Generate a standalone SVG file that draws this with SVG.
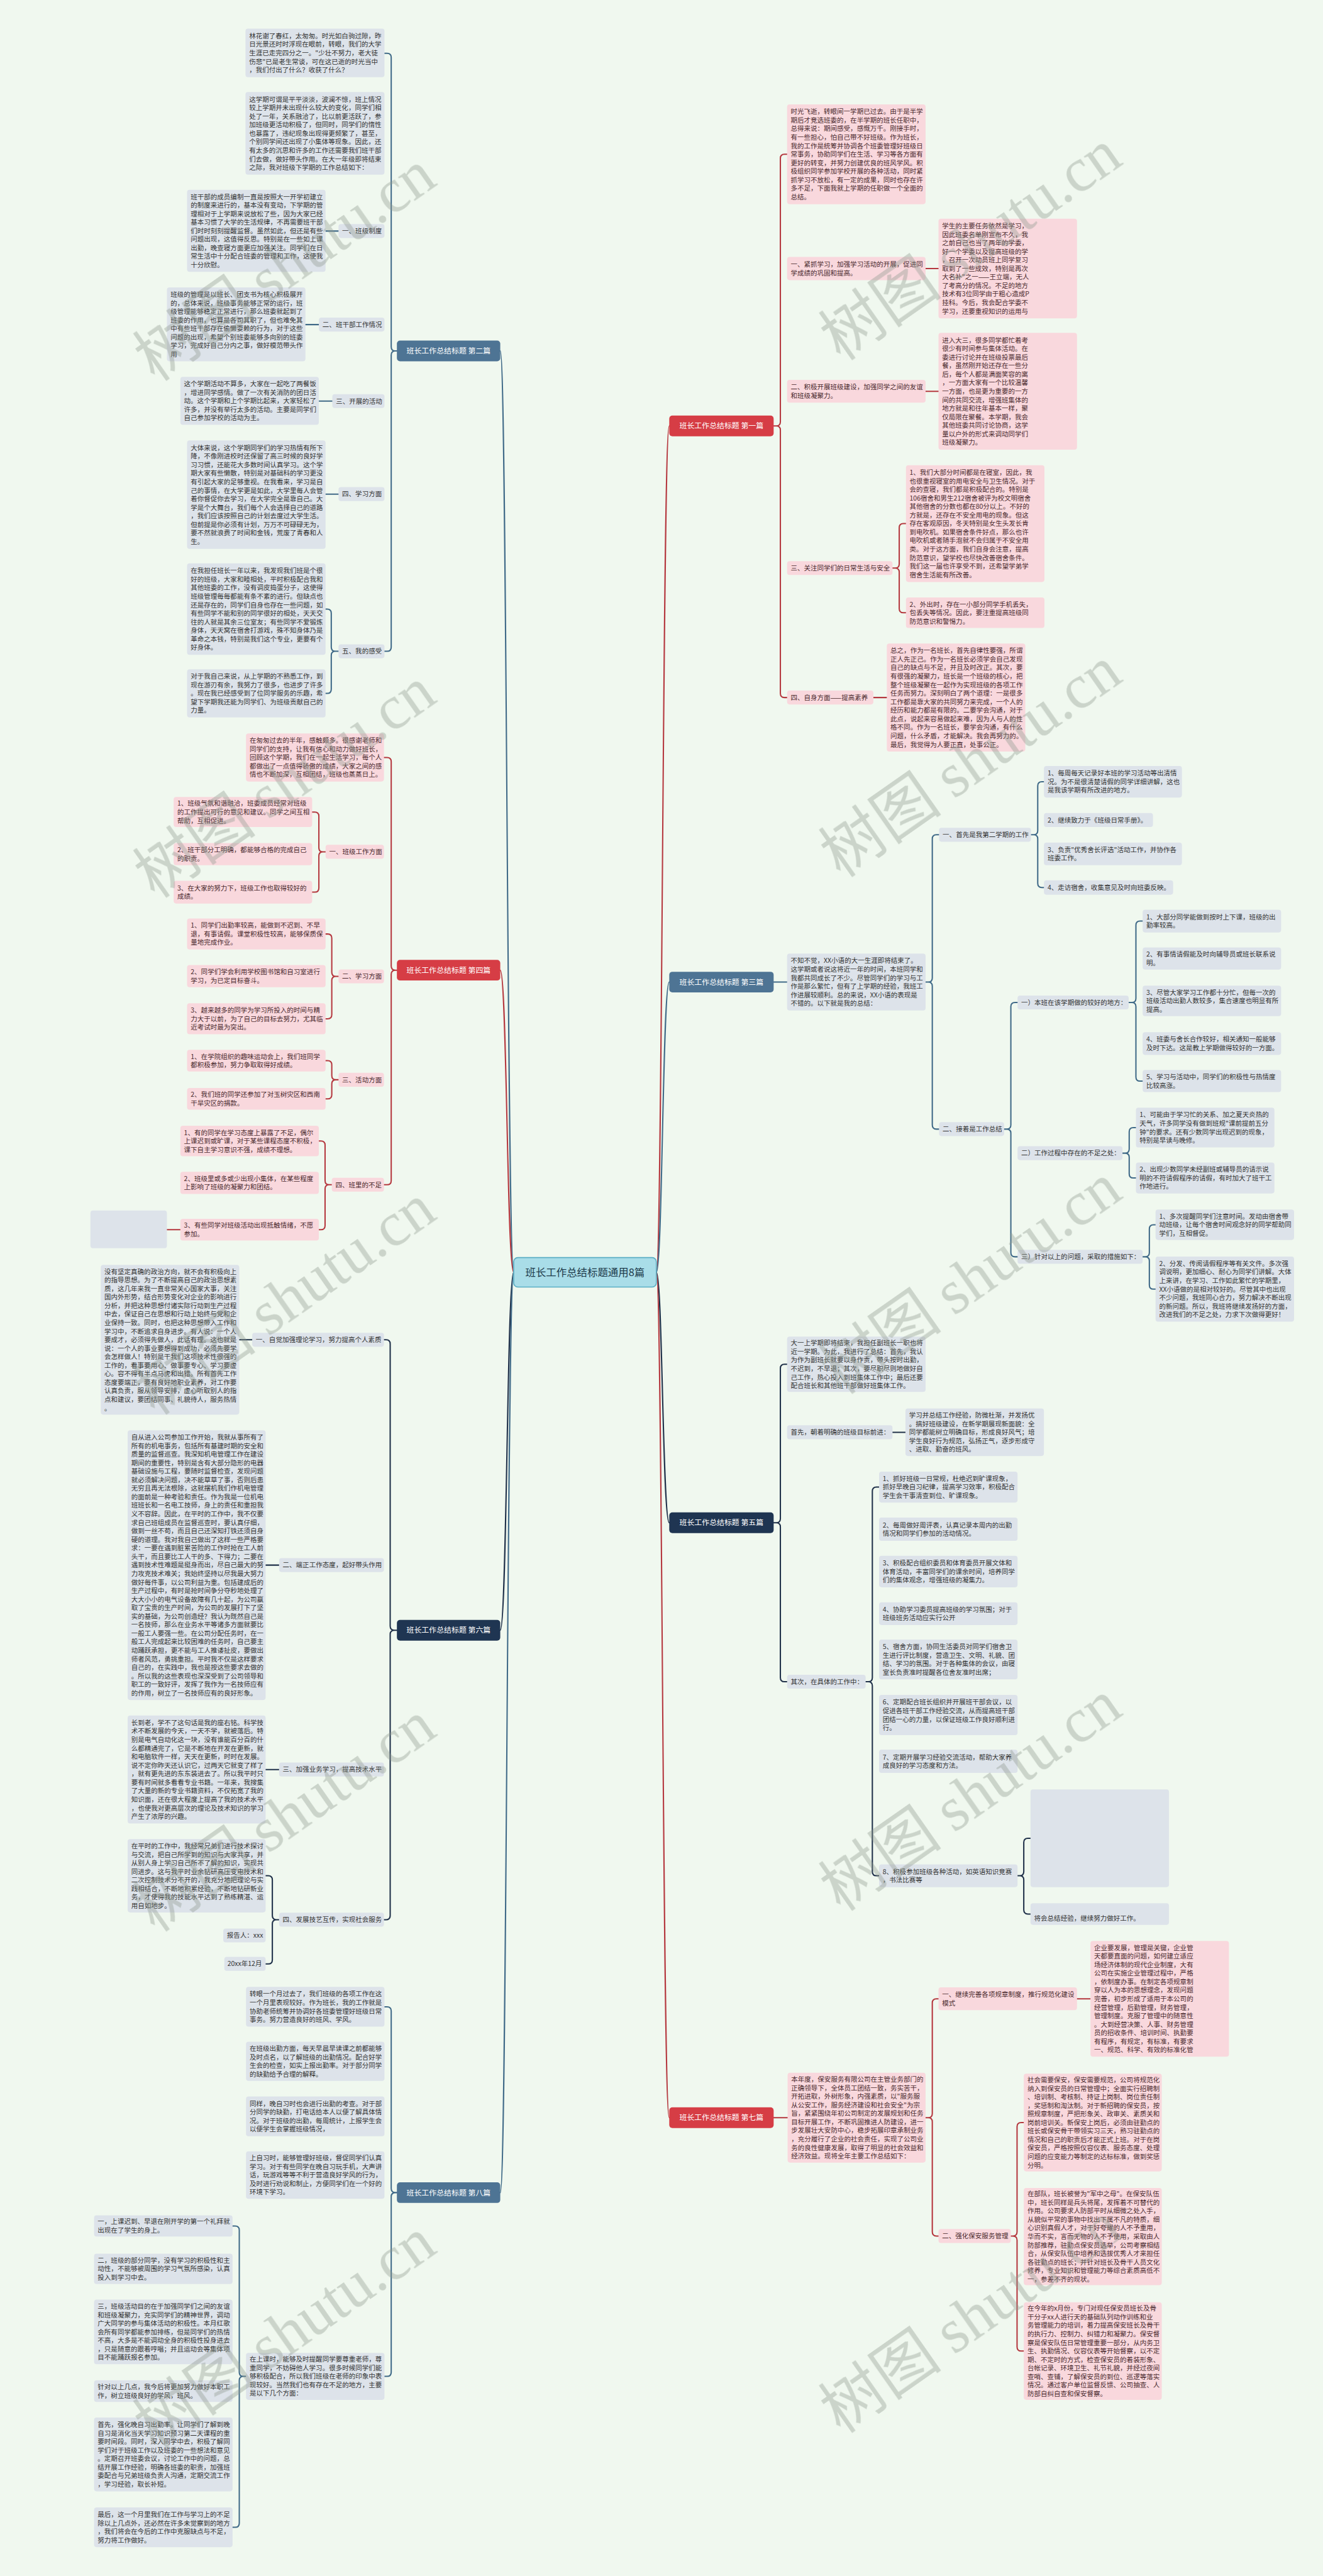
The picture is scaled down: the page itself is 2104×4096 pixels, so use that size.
<svg xmlns="http://www.w3.org/2000/svg" width="2104" height="4096" viewBox="0 0 2104 4096">
<style>
.bb{fill:#dde3ea}
.pb{fill:#f9d8dd}
.t{font-family:"Noto Sans CJK SC","Noto Sans",sans-serif;font-size:12.8px;fill:#333}
.tp{fill:#4a2a2e}
.c{fill:none;stroke-width:2.5;stroke-linecap:round}
.cs{stroke:#406a88}
.cr{stroke:#b5383f}
.cn{stroke:#1f3049}
.nt{font-family:"Noto Sans CJK SC","Noto Sans",sans-serif;font-size:14.5px;fill:#fff;text-anchor:middle}
.wm{font-family:"Noto Sans CJK SC",sans-serif;font-size:120px;fill:#8d998d;opacity:0.38}
.wl{font-family:"Liberation Serif",serif}
</style>
<rect width="2104" height="4096" fill="#f0f8ef"/>
<g transform="scale(0.821875)">
<g id="connectors">
<path class="c cs" d="M994,2461.5C981,2461.5 981,679 968,679"/>
<path class="c cr" d="M994,2461.5C981,2461.5 981,1877 968,1877"/>
<path class="c cn" d="M994,2461.5C981,2461.5 981,3154 968,3154"/>
<path class="c cs" d="M994,2461.5C981,2461.5 981,4242 968,4242"/>
<path class="c cr" d="M1270,2461.5C1282,2461.5 1282,824 1295,824"/>
<path class="c cs" d="M1270,2461.5C1282,2461.5 1282,1900 1295,1900"/>
<path class="c cn" d="M1270,2461.5C1282,2461.5 1282,2946 1295,2946"/>
<path class="c cr" d="M1270,2461.5C1282,2461.5 1282,4097 1295,4097"/>
<path class="c cs" d="M744,103H749Q757,103 757,111V671Q757,679 765,679H768M765,679Q757,679 757,687V1252Q757,1260 749,1260H744"/>
<path class="c cs" d="M630,1178.5H633Q641,1178.5 641,1186.5V1252Q641,1260 649,1260H655M649,1260Q641,1260 641,1268V1333.5Q641,1341.5 633,1341.5H630"/>
<path class="c cs" d="M630,447H655M591,628H617M617,776H643M630,956H655"/>
<path class="c cr" d="M743,1465.5H749Q757,1465.5 757,1473.5V1869Q757,1877 765,1877H768M765,1877Q757,1877 757,1885V2284Q757,2292 749,2292H743"/>
<path class="c cr" d="M604,1571H609Q617,1571 617,1579V1640Q617,1648 625,1648H630M625,1648Q617,1648 617,1656V1718Q617,1726 609,1726H604"/>
<path class="c cr" d="M630,1807H634Q642,1807 642,1815V1881Q642,1889 650,1889H655M650,1889Q642,1889 642,1897V1963Q642,1971 634,1971H630"/>
<path class="c cr" d="M630,2052H634Q642,2052 642,2060V2081Q642,2089 650,2089H655M650,2089Q642,2089 642,2097V2118Q642,2126 634,2126H630"/>
<path class="c cr" d="M617,2207.5H621Q629,2207.5 629,2215.5V2284Q629,2292 637,2292H642M637,2292Q629,2292 629,2300V2371Q629,2379 621,2379H617"/>
<path class="c cr" d="M323,2379H349"/>
<path class="c cn" d="M743,2592H747Q755,2592 755,2600V3146Q755,3154 763,3154H768M763,3154Q755,3154 755,3162V3706Q755,3714 747,3714H743"/>
<path class="c cn" d="M514,3629H519Q527,3629 527,3637V3706Q527,3714 535,3714H540M535,3714Q527,3714 527,3722V3791.5Q527,3799.5 519,3799.5H514"/>
<path class="c cn" d="M463,2592H488M514,3028H540M514,3423.5H540"/>
<path class="c cs" d="M744,3882.5H749Q757,3882.5 757,3890.5V4234Q757,4242 765,4242H768M765,4242Q757,4242 757,4250V4589.5Q757,4597.5 749,4597.5H744"/>
<path class="c cs" d="M450,4306.5H455Q463,4306.5 463,4314.5V4589.5Q463,4597.5 471,4597.5H476M471,4597.5Q463,4597.5 463,4605.5V4881.5Q463,4889.5 455,4889.5H450"/>
<path class="c cr" d="M1523,298.5H1518Q1510,298.5 1510,306.5V816Q1510,824 1502,824H1497M1502,824Q1510,824 1510,832V1341.5Q1510,1349.5 1518,1349.5H1523"/>
<path class="c cr" d="M1753,1013H1748Q1740,1013 1740,1021V1091Q1740,1099 1732,1099H1727M1732,1099Q1740,1099 1740,1107V1177.5Q1740,1185.5 1748,1185.5H1753"/>
<path class="c cr" d="M1791,519.5H1816M1791,757H1816M1690,1349.5H1716"/>
<path class="c cs" d="M1497,1900H1523"/>
<path class="c cs" d="M1817,1615H1812Q1804,1615 1804,1623V1892Q1804,1900 1796,1900H1791M1796,1900Q1804,1900 1804,1908V2176.5Q1804,2184.5 1812,2184.5H1817"/>
<path class="c cs" d="M2020,1512.5H2016Q2008,1512.5 2008,1520.5V1607Q2008,1615 2000,1615H1995M2000,1615Q2008,1615 2008,1623V1709Q2008,1717 2016,1717H2020"/>
<path class="c cs" d="M1969,1939.5H1964Q1956,1939.5 1956,1947.5V2176.5Q1956,2184.5 1948,2184.5H1943M1948,2184.5Q1956,2184.5 1956,2192.5V2423.5Q1956,2431.5 1964,2431.5H1969"/>
<path class="c cs" d="M2211,1782H2206Q2198,1782 2198,1790V1931.5Q2198,1939.5 2190,1939.5H2184M2190,1939.5Q2198,1939.5 2198,1947.5V2083.5Q2198,2091.5 2206,2091.5H2211"/>
<path class="c cs" d="M2198,2181.5H2193Q2185,2181.5 2185,2189.5V2223Q2185,2231 2177,2231H2172M2177,2231Q2185,2231 2185,2239V2271Q2185,2279 2193,2279H2198"/>
<path class="c cs" d="M2236,2369.5H2232Q2224,2369.5 2224,2377.5V2423.5Q2224,2431.5 2216,2431.5H2211M2216,2431.5Q2224,2431.5 2224,2439.5V2486Q2224,2494 2232,2494H2236"/>
<path class="c cn" d="M1523,2639.5H1518Q1510,2639.5 1510,2647.5V2938Q1510,2946 1502,2946H1497M1502,2946Q1510,2946 1510,2954V3245.5Q1510,3253.5 1518,3253.5H1523"/>
<path class="c cn" d="M1727,2771H1752"/>
<path class="c cn" d="M1701,2877H1696Q1688,2877 1688,2885V3245.5Q1688,3253.5 1680,3253.5H1675M1680,3253.5Q1688,3253.5 1688,3261.5V3621Q1688,3629 1696,3629H1701"/>
<path class="c cn" d="M1994,3556.5H1989Q1981,3556.5 1981,3564.5V3621Q1981,3629 1973,3629H1969M1973,3629Q1981,3629 1981,3637V3695Q1981,3703 1989,3703H1994"/>
<path class="c cr" d="M1497,4097H1524M2084,3867H2110"/>
<path class="c cr" d="M1816,3867H1812Q1804,3867 1804,3875V4089Q1804,4097 1796,4097H1791M1796,4097Q1804,4097 1804,4105V4318Q1804,4326 1812,4326H1816"/>
<path class="c cr" d="M1981,4106.5H1976Q1968,4106.5 1968,4114.5V4318Q1968,4326 1960,4326H1956M1960,4326Q1968,4326 1968,4334V4540.5Q1968,4548.5 1976,4548.5H1981"/>
</g>

<g id="center">
<rect x="994" y="2433" width="276" height="57" rx="8" fill="#a9dde8" stroke="#5aaec4" stroke-width="2"/>
<text x="1132" y="2468.5" style="font-family:'Noto Sans CJK SC',sans-serif;font-size:20px;fill:#1d3a4a;text-anchor:middle">班长工作总结标题通用8篇</text>
</g>

<g id="p2">
<rect x="768" y="659" width="200" height="40" rx="6" fill="#4e7494"/>
<text class="nt" x="868" y="684">班长工作总结标题 第二篇</text>
<rect class="bb" x="475" y="55.5" width="269" height="94" rx="5"/>
<text class="t"><tspan x="482" y="74.1">林花谢了春红，太匆匆。时光如白驹过隙，昨</tspan><tspan x="482" dy="16.5">日光景还时时浮现在眼前，转眼，我们的大学</tspan><tspan x="482" dy="16.5">生涯已走完四分之一。"少壮不努力，老大徒</tspan><tspan x="482" dy="16.5">伤悲"已是老生常谈，可在这已逝的时光当中</tspan><tspan x="482" dy="16.5">，我们付出了什么？收获了什么？</tspan></text>
<rect class="bb" x="475" y="178" width="269" height="160" rx="5"/>
<text class="t"><tspan x="482" y="196.6">这学期可谓是平平淡淡，波澜不惊，班上情况</tspan><tspan x="482" dy="16.5">较上学期并未出现什么较大的变化，同学们相</tspan><tspan x="482" dy="16.5">处了一年，关系融洽了，比以前更活跃了，参</tspan><tspan x="482" dy="16.5">加班级更活动积极了，但同时，同学们的惰性</tspan><tspan x="482" dy="16.5">也暴露了，违纪现象出现得更频繁了，甚至，</tspan><tspan x="482" dy="16.5">个别同学间还出现了小集体等现象。因此，还</tspan><tspan x="482" dy="16.5">有太多的沉思和许多的工作还需要我们班干部</tspan><tspan x="482" dy="16.5">们去做，做好带头作用。在大一年级即将结束</tspan><tspan x="482" dy="16.5">之际，我对班级下学期的工作总结如下：</tspan></text>
<rect class="bb" x="655" y="433.5" width="89" height="27" rx="5"/>
<text class="t" x="662" y="451.6">一、班级制度</text>
<rect class="bb" x="362" y="367" width="268" height="159" rx="5"/>
<text class="t"><tspan x="369" y="385.1">班干部的成员编制一直是按照大一开学初建立</tspan><tspan x="369" dy="16.5">的制度来进行的，基本没有变动，下学期的管</tspan><tspan x="369" dy="16.5">理相对于上学期来说放松了些，因为大家已经</tspan><tspan x="369" dy="16.5">基本习惯了大学的生活规律，不再需要班干部</tspan><tspan x="369" dy="16.5">们时时刻刻提醒监督。虽然如此，但还是有些</tspan><tspan x="369" dy="16.5">问题出现，这值得反思。特别是在一些如上课</tspan><tspan x="369" dy="16.5">出勤，晚查寝方面更应加强关注。同学们在日</tspan><tspan x="369" dy="16.5">常生活中十分配合班委的管理和工作，这使我</tspan><tspan x="369" dy="16.5">十分欣慰。</tspan></text>
<rect class="bb" x="617" y="614.5" width="127" height="27" rx="5"/>
<text class="t" x="624" y="632.6">二、班干部工作情况</text>
<rect class="bb" x="323" y="556" width="268" height="143" rx="5"/>
<text class="t"><tspan x="330" y="574.4">班级的管理是以班长、团支书为核心积极展开</tspan><tspan x="330" dy="16.5">的，总体来说，班级事务能够正常的运行，班</tspan><tspan x="330" dy="16.5">级管理能够稳定正常进行，那么班委就起到了</tspan><tspan x="330" dy="16.5">班委的作用，也算是各司其职了，但也难免其</tspan><tspan x="330" dy="16.5">中有些班干部存在偷懒耍赖的行为，对于这些</tspan><tspan x="330" dy="16.5">问题的出现，希望个别班委能够多向别的班委</tspan><tspan x="330" dy="16.5">学习，完成好自己分内之事，做好模范带头作</tspan><tspan x="330" dy="16.5">用</tspan></text>
<rect class="bb" x="643" y="762.5" width="101" height="27" rx="5"/>
<text class="t" x="650" y="780.6">三、开展的活动</text>
<rect class="bb" x="349" y="729" width="268" height="93" rx="5"/>
<text class="t"><tspan x="356" y="747.1">这个学期活动不算多，大家在一起吃了两餐饭</tspan><tspan x="356" dy="16.5">，增进同学感情。做了一次有关消防的团日活</tspan><tspan x="356" dy="16.5">动。这个学期和上个学期比起来，大家轻松了</tspan><tspan x="356" dy="16.5">许多，并没有举行太多的活动。主要是同学们</tspan><tspan x="356" dy="16.5">自己参加学校的活动为主。</tspan></text>
<rect class="bb" x="655" y="942.5" width="89" height="27" rx="5"/>
<text class="t" x="662" y="960.6">四、学习方面</text>
<rect class="bb" x="362" y="852" width="268" height="210" rx="5"/>
<text class="t"><tspan x="369" y="870.9">大体来说，这个学期同学们的学习热情有所下</tspan><tspan x="369" dy="16.5">降，不像刚进校时还保留了高三时候的良好学</tspan><tspan x="369" dy="16.5">习习惯，还能花大多数时间认真学习。这个学</tspan><tspan x="369" dy="16.5">期大家有些懒散，特别是对基础科的学习更没</tspan><tspan x="369" dy="16.5">有引起大家的足够重视。在我看来，学习是自</tspan><tspan x="369" dy="16.5">己的事情，在大学更是如此，大学里每人会管</tspan><tspan x="369" dy="16.5">着你督促你去学习，在大学完全是靠自己。大</tspan><tspan x="369" dy="16.5">学是个大舞台，我们每个人会选择自己的道路</tspan><tspan x="369" dy="16.5">，我们应该按照自己的计划去度过大学生活。</tspan><tspan x="369" dy="16.5">但前提是你必须有计划，万万不可碌碌无为，</tspan><tspan x="369" dy="16.5">要不然就浪费了时间和金钱，荒废了青春和人</tspan><tspan x="369" dy="16.5">生。</tspan></text>
<rect class="bb" x="655" y="1246.5" width="89" height="27" rx="5"/>
<text class="t" x="662" y="1264.6">五、我的感受</text>
<rect class="bb" x="362" y="1090" width="268" height="177" rx="5"/>
<text class="t"><tspan x="369" y="1108.9">在我担任班长一年以来，我发现我们班是个很</tspan><tspan x="369" dy="16.5">好的班级，大家和睦相处，平时积极配合我和</tspan><tspan x="369" dy="16.5">其他班委的工作，没有调皮捣蛋分子，这使得</tspan><tspan x="369" dy="16.5">班级管理每每都能有条不紊的进行。但缺点也</tspan><tspan x="369" dy="16.5">还是存在的，同学们自身也存在一些问题，如</tspan><tspan x="369" dy="16.5">有些同学不能和别的同学很好的相处，天天交</tspan><tspan x="369" dy="16.5">往的人就是其余三位室友；有些同学不爱锻炼</tspan><tspan x="369" dy="16.5">身体，天天窝在宿舍打游戏，殊不知身体乃是</tspan><tspan x="369" dy="16.5">革命之本钱，特别是我们这个专业，更要有个</tspan><tspan x="369" dy="16.5">好身体。</tspan></text>
<rect class="bb" x="362" y="1295" width="268" height="93" rx="5"/>
<text class="t"><tspan x="369" y="1313.1">对于我自己来说，从上学期的不熟悉工作，到</tspan><tspan x="369" dy="16.5">现在游刃有余，我努力了很多，也进步了许多</tspan><tspan x="369" dy="16.5">。现在我已经感受到了位同学服务的乐趣，希</tspan><tspan x="369" dy="16.5">望下学期我还能为同学们、为班级贡献自己的</tspan><tspan x="369" dy="16.5">力量。</tspan></text>
</g>

<g id="p4">
<rect x="768" y="1857" width="200" height="40" rx="6" fill="#d63d45"/>
<text class="nt" x="868" y="1882">班长工作总结标题 第四篇</text>
<rect class="pb" x="476" y="1419" width="267" height="93" rx="5"/>
<text class="t tp"><tspan x="483" y="1437.1">在匆匆过去的半年，感触颇多。很感谢老师和</tspan><tspan x="483" dy="16.5">同学们的支持，让我有信心和动力做好班长，</tspan><tspan x="483" dy="16.5">回顾这个学期，我们在一起生活学习，每个人</tspan><tspan x="483" dy="16.5">都做出了一点值得骄傲的成绩，大家之间的感</tspan><tspan x="483" dy="16.5">情也不断加深，互相团结，班级也蒸蒸日上。</tspan></text>
<rect class="pb" x="630" y="1634.5" width="113" height="27" rx="5"/>
<text class="t tp" x="637" y="1652.6">一、班级工作方面</text>
<rect class="pb" x="336" y="1542" width="268" height="58" rx="5"/>
<text class="t tp"><tspan x="343" y="1559.1">1、班级气氛和谐融洽，班委成员经常对班级</tspan><tspan x="343" dy="16.5">的工作提出可行的意见和建议。同学之间互相</tspan><tspan x="343" dy="16.5">帮助，互相促进。</tspan></text>
<rect class="pb" x="336" y="1631" width="268" height="43" rx="5"/>
<text class="t tp"><tspan x="343" y="1648.9">2、班干部分工明确，都能够合格的完成自己</tspan><tspan x="343" dy="16.5">的职责。</tspan></text>
<rect class="pb" x="336" y="1704" width="268" height="44" rx="5"/>
<text class="t tp"><tspan x="343" y="1722.4">3、在大家的努力下，班级工作也取得较好的</tspan><tspan x="343" dy="16.5">成绩。</tspan></text>
<rect class="pb" x="655" y="1875.5" width="88" height="27" rx="5"/>
<text class="t tp" x="662" y="1893.6">二、学习方面</text>
<rect class="pb" x="362" y="1777" width="268" height="60" rx="5"/>
<text class="t tp"><tspan x="369" y="1795.1">1、同学们出勤率较高，能做到不迟到、不早</tspan><tspan x="369" dy="16.5">退，有事请假。课堂积极性较高，能够保质保</tspan><tspan x="369" dy="16.5">量地完成作业。</tspan></text>
<rect class="pb" x="362" y="1867" width="268" height="43" rx="5"/>
<text class="t tp"><tspan x="369" y="1884.9">2、同学们学会利用学校图书馆和自习室进行</tspan><tspan x="369" dy="16.5">学习，为已定目标奋斗。</tspan></text>
<rect class="pb" x="362" y="1941" width="268" height="60" rx="5"/>
<text class="t tp"><tspan x="369" y="1959.1">3、越来越多的同学为学习所投入的时间与精</tspan><tspan x="369" dy="16.5">力大于以前，为了自己的目标去努力，尤其临</tspan><tspan x="369" dy="16.5">近考试时最为突出。</tspan></text>
<rect class="pb" x="655" y="2075.5" width="88" height="27" rx="5"/>
<text class="t tp" x="662" y="2093.6">三、活动方面</text>
<rect class="pb" x="362" y="2031" width="268" height="42" rx="5"/>
<text class="t tp"><tspan x="369" y="2048.4">1、在学院组织的趣味运动会上，我们班同学</tspan><tspan x="369" dy="16.5">都积极参加，努力争取取得好成绩。</tspan></text>
<rect class="pb" x="362" y="2105" width="268" height="42" rx="5"/>
<text class="t tp"><tspan x="369" y="2122.4">2、我们班的同学还参加了对玉树灾区和西南</tspan><tspan x="369" dy="16.5">干旱灾区的捐款。</tspan></text>
<rect class="pb" x="642" y="2278.5" width="101" height="27" rx="5"/>
<text class="t tp" x="649" y="2296.6">四、班里的不足</text>
<rect class="pb" x="349" y="2178" width="268" height="59" rx="5"/>
<text class="t tp"><tspan x="356" y="2195.6">1、有的同学在学习态度上暴露了不足，偶尔</tspan><tspan x="356" dy="16.5">上课迟到或旷课，对于某些课程态度不积极，</tspan><tspan x="356" dy="16.5">课下自主学习意识不强，成绩不理想。</tspan></text>
<rect class="pb" x="349" y="2267" width="268" height="43" rx="5"/>
<text class="t tp"><tspan x="356" y="2284.9">2、班级里或多或少出现小集体，在某些程度</tspan><tspan x="356" dy="16.5">上影响了班级的凝聚力和团结。</tspan></text>
<rect class="pb" x="349" y="2358" width="268" height="42" rx="5"/>
<text class="t tp"><tspan x="356" y="2375.4">3、有些同学对班级活动出现抵触情绪，不愿</tspan><tspan x="356" dy="16.5">参加。</tspan></text>
<rect class="bb" x="175" y="2342" width="148" height="73" rx="5"/>
</g>

<g id="p6">
<rect x="768" y="3134" width="200" height="40" rx="6" fill="#1f3552"/>
<text class="nt" x="868" y="3159">班长工作总结标题 第六篇</text>
<rect class="bb" x="488" y="2578.5" width="255" height="27" rx="5"/>
<text class="t" x="495" y="2596.6">一、自觉加强理论学习，努力提高个人素质</text>
<rect class="bb" x="195" y="2447" width="268" height="290" rx="5"/>
<text class="t"><tspan x="202" y="2464.6">没有坚定真确的政治方向，就不会有积极向上</tspan><tspan x="202" dy="16.5">的指导思想。为了不断提高自己的政治思想素</tspan><tspan x="202" dy="16.5">质，这几年来我一直非常关心国家大事，关注</tspan><tspan x="202" dy="16.5">国内外形势，结合形势变化对企业的影响进行</tspan><tspan x="202" dy="16.5">分析，并把这种思想付诸实际行动到生产过程</tspan><tspan x="202" dy="16.5">中去，保证自己在思想和行动上始终与党和企</tspan><tspan x="202" dy="16.5">业保持一致。同时，也把这种思想带入工作和</tspan><tspan x="202" dy="16.5">学习中，不断追求自身进步。有人说：一个人</tspan><tspan x="202" dy="16.5">要成才，必须得先做人，此话有理。这也就是</tspan><tspan x="202" dy="16.5">说：一个人的事业要想得到成功，必须先要学</tspan><tspan x="202" dy="16.5">会怎样做人！特别是干我们这项技术性很强的</tspan><tspan x="202" dy="16.5">工作的，看事要用心、做事要专心、学习要虚</tspan><tspan x="202" dy="16.5">心。容不得有半点马虎和出错。所有首先工作</tspan><tspan x="202" dy="16.5">态度要端正，要有良好地职业素养，对工作要</tspan><tspan x="202" dy="16.5">认真负责，服从领导安排，虚心听取别人的指</tspan><tspan x="202" dy="16.5">点和建议，要团结同事、礼貌待人，服务热情</tspan><tspan x="202" dy="16.5">。</tspan></text>
<rect class="bb" x="540" y="3014.5" width="203" height="27" rx="5"/>
<text class="t" x="547" y="3032.6">二、端正工作态度，起好带头作用</text>
<rect class="bb" x="247" y="2767" width="267" height="522" rx="5"/>
<text class="t"><tspan x="254" y="2785.1">自从进入公司参加工作开始，我就从事所有了</tspan><tspan x="254" dy="16.5">所有的机电事务，包括所有基建时期的安全和</tspan><tspan x="254" dy="16.5">质量的监督巡查。我深知机电管理工作在建设</tspan><tspan x="254" dy="16.5">期间的重要性，特别是含有大部分隐形的电器</tspan><tspan x="254" dy="16.5">基础设施与工程，要随时监督检查，发现问题</tspan><tspan x="254" dy="16.5">就必须解决问题，决不能草草了事，否则后患</tspan><tspan x="254" dy="16.5">无穷且再无法根除，这就摆机我们作机电管理</tspan><tspan x="254" dy="16.5">的面前是一种考验和责任。作为我是一位机电</tspan><tspan x="254" dy="16.5">班班长和一名电工技师，身上的责任和重担我</tspan><tspan x="254" dy="16.5">义不容辞。因此，在平时的工作中，我不仅要</tspan><tspan x="254" dy="16.5">求自己班组成员在监督巡查时，要认真仔细，</tspan><tspan x="254" dy="16.5">做到一丝不苟，而且自己还深知打铁还须自身</tspan><tspan x="254" dy="16.5">硬的道理。我对我自己做出了这样一些严格要</tspan><tspan x="254" dy="16.5">求：一要在遇到脏累苦险的工作时抢在工人前</tspan><tspan x="254" dy="16.5">头干，而且要比工人干的多、下得力；二要在</tspan><tspan x="254" dy="16.5">遇到技术性难题是挺身而出，尽自己最大的努</tspan><tspan x="254" dy="16.5">力攻克技术难关；我始终坚持以尽我最大努力</tspan><tspan x="254" dy="16.5">做好每件事，以公司利益为重。包括建成后的</tspan><tspan x="254" dy="16.5">生产过程中，有时是抢时间争分夺秒地处理了</tspan><tspan x="254" dy="16.5">大大小小的电气设备故障有几十起，为公司赢</tspan><tspan x="254" dy="16.5">取了宝贵的生产时间，为公司的发展打下了坚</tspan><tspan x="254" dy="16.5">实的基础，为公司创造经？我认为既然自己是</tspan><tspan x="254" dy="16.5">一名技师，那么在业务水平等诸多方面就要比</tspan><tspan x="254" dy="16.5">一般工人要强一些。在公司分配任务时，在一</tspan><tspan x="254" dy="16.5">般工人完成起来比较困难的任务时，自己要主</tspan><tspan x="254" dy="16.5">动踊跃承担，更不能与工人推诿扯皮，要做出</tspan><tspan x="254" dy="16.5">师者风范，勇挑重担。平时我不仅是这样要求</tspan><tspan x="254" dy="16.5">自己的，在实践中，我也是按这些要求去做的</tspan><tspan x="254" dy="16.5">。所以我的这些表现也深深受到了公司领导和</tspan><tspan x="254" dy="16.5">职工的一致好评，发挥了我作为一名技师应有</tspan><tspan x="254" dy="16.5">的作用，树立了一名技师应有的良好形象。</tspan></text>
<rect class="bb" x="540" y="3410" width="203" height="27" rx="5"/>
<text class="t" x="547" y="3428.1">三、加强业务学习，提高技术水平</text>
<rect class="bb" x="247" y="3319" width="267" height="209" rx="5"/>
<text class="t"><tspan x="254" y="3337.4">长到老，学不了这句话是我的座右铭。科学技</tspan><tspan x="254" dy="16.5">术不断发展的今天，一天不学，就被落后。特</tspan><tspan x="254" dy="16.5">别是电气自动化这一块，没有谁能百分百的什</tspan><tspan x="254" dy="16.5">么都精通完了，它是不断地在开发在更新，就</tspan><tspan x="254" dy="16.5">和电脑软件一样，天天在更新，时时在发展。</tspan><tspan x="254" dy="16.5">说不定你昨天还认识它，过两天它就变了样了</tspan><tspan x="254" dy="16.5">，就有更先进的东东装进去了。所以我平时只</tspan><tspan x="254" dy="16.5">要有时间就多看看专业书籍。一年来，我搜集</tspan><tspan x="254" dy="16.5">了大量的新的专业书籍资料，不仅拓宽了我的</tspan><tspan x="254" dy="16.5">知识面，还在很大程度上提高了我的技术水平</tspan><tspan x="254" dy="16.5">，也使我对更高层次的理论及技术知识的学习</tspan><tspan x="254" dy="16.5">产生了浓厚的兴趣。</tspan></text>
<rect class="bb" x="540" y="3700.5" width="203" height="27" rx="5"/>
<text class="t" x="547" y="3718.6">四、发展技艺互传，实现社会服务</text>
<rect class="bb" x="247" y="3558" width="267" height="142" rx="5"/>
<text class="t"><tspan x="254" y="3575.9">在平时的工作中，我经常兄弟们进行技术探讨</tspan><tspan x="254" dy="16.5">与交流，把自己所学到的知识与大家共享，并</tspan><tspan x="254" dy="16.5">从别人身上学习自己所不了解的知识，实现共</tspan><tspan x="254" dy="16.5">同进步。这与我平时业余钻研高压变电技术和</tspan><tspan x="254" dy="16.5">二次控制技术分不开的，我充分地把理论与实</tspan><tspan x="254" dy="16.5">践相结合，不断地积累经验，不断地钻研新业</tspan><tspan x="254" dy="16.5">务，才使得我的技能水平达到了熟练精湛、运</tspan><tspan x="254" dy="16.5">用自如地步。</tspan></text>
<rect class="bb" x="432" y="3731" width="82" height="27" rx="5"/>
<text class="t" x="439" y="3749.1">报告人：xxx</text>
<rect class="bb" x="434" y="3786" width="80" height="27" rx="5"/>
<text class="t" x="440" y="3804.1">20xx年12月</text>
</g>

<g id="p8">
<rect x="768" y="4222" width="200" height="40" rx="6" fill="#4e7494"/>
<text class="nt" x="868" y="4247">班长工作总结标题 第八篇</text>
<rect class="bb" x="476" y="3844" width="268" height="77" rx="5"/>
<text class="t"><tspan x="483" y="3862.4">转眼一个月过去了，我们班级的各项工作在这</tspan><tspan x="483" dy="16.5">一个月里表现较好。作为班长，我的工作就是</tspan><tspan x="483" dy="16.5">协助老师统筹并协调好各班委管理好班级日常</tspan><tspan x="483" dy="16.5">事务。努力营造良好的班风、学风。</tspan></text>
<rect class="bb" x="476" y="3950" width="268" height="76" rx="5"/>
<text class="t"><tspan x="483" y="3967.9">在班级出勤方面，每天早晨早读课之前都能够</tspan><tspan x="483" dy="16.5">及时点名，以了解班级的出勤情况。配合好学</tspan><tspan x="483" dy="16.5">生会的检查，如实上报出勤率。对于部分同学</tspan><tspan x="483" dy="16.5">的缺勤给予合理的解释。</tspan></text>
<rect class="bb" x="476" y="4056" width="268" height="77" rx="5"/>
<text class="t"><tspan x="483" y="4074.4">同样，晚自习时也会进行出勤的考查。对于部</tspan><tspan x="483" dy="16.5">分同学的缺勤，打电话给本人以便了解具体情</tspan><tspan x="483" dy="16.5">况。对于班级的出勤，每周统计，上报学生会</tspan><tspan x="483" dy="16.5">以便学生会掌握班级情况，</tspan></text>
<rect class="bb" x="476" y="4162" width="268" height="92" rx="5"/>
<text class="t"><tspan x="483" y="4179.6">上自习时，能够管理好班级，督促同学们认真</tspan><tspan x="483" dy="16.5">学习。对于有些同学在晚自习玩手机，大声讲</tspan><tspan x="483" dy="16.5">话，玩游戏等等不利于营造良好学风的行为，</tspan><tspan x="483" dy="16.5">及时进行劝说和制止，方便同学们在一个好的</tspan><tspan x="483" dy="16.5">环境下学习。</tspan></text>
<rect class="bb" x="476" y="4552" width="268" height="91" rx="5"/>
<text class="t"><tspan x="483" y="4569.1">在上课时，能够及时提醒同学要尊重老师，尊</tspan><tspan x="483" dy="16.5">重同学，不妨碍他人学习。很多时候同学们能</tspan><tspan x="483" dy="16.5">够积极配合，所以我们班级在老师的印象中表</tspan><tspan x="483" dy="16.5">现较好。当然我们也有存在不足的地方，主要</tspan><tspan x="483" dy="16.5">是以下几个方面：</tspan></text>
<rect class="bb" x="182" y="4286" width="268" height="41" rx="5"/>
<text class="t"><tspan x="189" y="4302.9">一，上课迟到、早退在刚开学的第一个礼拜就</tspan><tspan x="189" dy="16.5">出现在了学生的身上。</tspan></text>
<rect class="bb" x="182" y="4360" width="268" height="59" rx="5"/>
<text class="t"><tspan x="189" y="4377.6">二，班级的部分同学，没有学习的积极性和主</tspan><tspan x="189" dy="16.5">动性，不能够被周围的学习气氛所感染，认真</tspan><tspan x="189" dy="16.5">投入到学习中去。</tspan></text>
<rect class="bb" x="182" y="4449" width="268" height="125" rx="5"/>
<text class="t"><tspan x="189" y="4466.6">三，班级活动目的在于加强同学们之间的友谊</tspan><tspan x="189" dy="16.5">和班级凝聚力，充实同学们的精神世界，调动</tspan><tspan x="189" dy="16.5">广大同学的参与集体活动的积极性。本月红歌</tspan><tspan x="189" dy="16.5">会所有同学都能参加排练，但是同学们的热情</tspan><tspan x="189" dy="16.5">不高，大多是不能调动全身的积极性投身进去</tspan><tspan x="189" dy="16.5">，只是随意的跟着哼唱；并且运动会等集体项</tspan><tspan x="189" dy="16.5">目不能踊跃报名参加。</tspan></text>
<rect class="bb" x="182" y="4605" width="268" height="42" rx="5"/>
<text class="t"><tspan x="189" y="4622.4">针对以上几点，我今后将更加努力做好本职工</tspan><tspan x="189" dy="16.5">作，树立班级良好的学风，班风。</tspan></text>
<rect class="bb" x="182" y="4677" width="268" height="143" rx="5"/>
<text class="t"><tspan x="189" y="4695.4">首先，强化晚自习出勤率。让同学们了解到晚</tspan><tspan x="189" dy="16.5">自习是消化当天学习知识预习第二天课程的重</tspan><tspan x="189" dy="16.5">要时间段。同时，深入同学中去，积极了解同</tspan><tspan x="189" dy="16.5">学们对于班级工作以及班委的一些想法和意见</tspan><tspan x="189" dy="16.5">。定期召开班委会议，讨论工作中的问题，总</tspan><tspan x="189" dy="16.5">结开展工作经验，明确各班委的职责，加强班</tspan><tspan x="189" dy="16.5">委配合与兄弟班级负责人沟通，定期交流工作</tspan><tspan x="189" dy="16.5">，学习经验，取长补短。</tspan></text>
<rect class="bb" x="182" y="4851" width="268" height="77" rx="5"/>
<text class="t"><tspan x="189" y="4869.4">最后，这一个月里我们在工作与学习上的不足</tspan><tspan x="189" dy="16.5">除以上几点外，还必然在许多未觉察到的地方</tspan><tspan x="189" dy="16.5">，我们将会在今后的工作中克服缺点与不足，</tspan><tspan x="189" dy="16.5">努力将工作做好。</tspan></text>
</g>

<g id="p1">
<rect x="1295" y="804" width="202" height="40" rx="6" fill="#d63d45"/>
<text class="nt" x="1396" y="829">班长工作总结标题 第一篇</text>
<rect class="pb" x="1523" y="202" width="268" height="193" rx="5"/>
<text class="t tp"><tspan x="1530" y="220.6">时光飞逝，转眼间一学期已过去。由于是半学</tspan><tspan x="1530" dy="16.5">期后才竞选班委的，在半学期的班长任职中，</tspan><tspan x="1530" dy="16.5">总得来说：期间感受，感慨万千。刚接手时，</tspan><tspan x="1530" dy="16.5">有一些担心，怕自己带不好班级。作为班长，</tspan><tspan x="1530" dy="16.5">我的工作是统筹并协调各个班委管理好班级日</tspan><tspan x="1530" dy="16.5">常事务，协助同学们在生活、学习等各方面有</tspan><tspan x="1530" dy="16.5">更好的转变，并努力创建优良的班风学风。积</tspan><tspan x="1530" dy="16.5">极组织同学参加学校开展的各种活动，同时紧</tspan><tspan x="1530" dy="16.5">抓学习不放松，有一定的成果，同时也存在许</tspan><tspan x="1530" dy="16.5">多不足，下面我就上学期的任职做一个全面的</tspan><tspan x="1530" dy="16.5">总结。</tspan></text>
<rect class="pb" x="1523" y="497" width="268" height="45" rx="5"/>
<text class="t tp"><tspan x="1530" y="515.9">一、紧抓学习，加强学习活动的开展，促进同</tspan><tspan x="1530" dy="16.5">学成绩的巩固和提高。</tspan></text>
<rect class="pb" x="1816" y="423" width="268" height="193" rx="5"/>
<text class="t tp"><tspan x="1823" y="441.6">学生的主要任务依然是学习，</tspan><tspan x="1823" dy="16.5">因此班委名单刚宣布不久，我</tspan><tspan x="1823" dy="16.5">之前自己也当了两年的学委，</tspan><tspan x="1823" dy="16.5">好一个学委以及提高班级的学</tspan><tspan x="1823" dy="16.5">，召开一次动员班上同学复习</tspan><tspan x="1823" dy="16.5">取到了一些成效，特别是再次</tspan><tspan x="1823" dy="16.5">大名补"之一——王立端，无人</tspan><tspan x="1823" dy="16.5">了考高分的情况。不足的地方</tspan><tspan x="1823" dy="16.5">技术有3位同学由于粗心造成P</tspan><tspan x="1823" dy="16.5">挂科。今后，我会配合学委不</tspan><tspan x="1823" dy="16.5">学习，还要重视知识的运用与</tspan></text>
<rect class="pb" x="1523" y="735" width="268" height="44" rx="5"/>
<text class="t tp"><tspan x="1530" y="753.4">二、积极开展班级建设，加强同学之间的友谊</tspan><tspan x="1530" dy="16.5">和班级凝聚力。</tspan></text>
<rect class="pb" x="1816" y="644" width="268" height="226" rx="5"/>
<text class="t tp"><tspan x="1823" y="662.6">进入大三，很多同学都忙着考</tspan><tspan x="1823" dy="16.5">很少有时间参与集体活动。在</tspan><tspan x="1823" dy="16.5">委进行讨论并在班级投票最后</tspan><tspan x="1823" dy="16.5">餐，虽然刚开始还存在一些分</tspan><tspan x="1823" dy="16.5">后，每个人都是满面笑容的离</tspan><tspan x="1823" dy="16.5">，一方面大家有一个比较温馨</tspan><tspan x="1823" dy="16.5">一方面，也是更为重要的一方</tspan><tspan x="1823" dy="16.5">间的共同交流，增强班集体的</tspan><tspan x="1823" dy="16.5">地方就是和往年基本一样，聚</tspan><tspan x="1823" dy="16.5">仅局限在聚餐。本学期，我会</tspan><tspan x="1823" dy="16.5">其他班委共同讨论协商，这学</tspan><tspan x="1823" dy="16.5">量以户外的形式来调动同学们</tspan><tspan x="1823" dy="16.5">班级凝聚力。</tspan></text>
<rect class="pb" x="1523" y="1085.5" width="204" height="27" rx="5"/>
<text class="t tp" x="1530" y="1103.6">三、关注同学们的日常生活与安全</text>
<rect class="pb" x="1753" y="900" width="268" height="226" rx="5"/>
<text class="t tp"><tspan x="1760" y="918.6">1、我们大部分时间都是在寝室，因此，我</tspan><tspan x="1760" dy="16.5">也很重视寝室的用电安全与卫生情况。对于</tspan><tspan x="1760" dy="16.5">会的查寝，我们都是积极配合的。特别是</tspan><tspan x="1760" dy="16.5">106宿舍和男生212宿舍被评为校文明宿舍</tspan><tspan x="1760" dy="16.5">其他宿舍的分数也都在80分以上。不好的</tspan><tspan x="1760" dy="16.5">方就是，还存在不安全用电的现象。但这</tspan><tspan x="1760" dy="16.5">存在客观原因，冬天特别是女生头发长肯</tspan><tspan x="1760" dy="16.5">到电吹机。如果宿舍条件好点，那么也许</tspan><tspan x="1760" dy="16.5">电吹机或者随手泡就不会归属于不安全用</tspan><tspan x="1760" dy="16.5">类。对于这方面，我们自身会注意，提高</tspan><tspan x="1760" dy="16.5">防范意识，望学校也尽快改善宿舍条件。</tspan><tspan x="1760" dy="16.5">我们这一届也许享受不到，还希望学弟学</tspan><tspan x="1760" dy="16.5">宿舍生活能有所改善。</tspan></text>
<rect class="pb" x="1753" y="1156" width="268" height="59" rx="5"/>
<text class="t tp"><tspan x="1760" y="1173.6">2、外出时，存在一小部分同学手机丢失，</tspan><tspan x="1760" dy="16.5">包丢失等情况。因此，要注重提高班级同</tspan><tspan x="1760" dy="16.5">防范意识和警惕力。</tspan></text>
<rect class="pb" x="1523" y="1336" width="167" height="27" rx="5"/>
<text class="t tp" x="1530" y="1354.1">四、自身方面——提高素养</text>
<rect class="pb" x="1716" y="1245" width="268" height="209" rx="5"/>
<text class="t tp"><tspan x="1723" y="1263.4">总之，作为一名班长，首先自律性要强，所谓</tspan><tspan x="1723" dy="16.5">正人先正己。作为一名班长必须学会自己发现</tspan><tspan x="1723" dy="16.5">自己的缺点与不足，并且及时改正。其次，要</tspan><tspan x="1723" dy="16.5">有很强的凝聚力，班长是一个班级的核心，把</tspan><tspan x="1723" dy="16.5">整个班级凝聚在一起作为实现班级的各项工作</tspan><tspan x="1723" dy="16.5">任务而努力。深刻明白了两个道理：一是很多</tspan><tspan x="1723" dy="16.5">工作都是靠大家的共同努力来完成，一个人的</tspan><tspan x="1723" dy="16.5">经历和能力都是有限的。二要学会沟通，对于</tspan><tspan x="1723" dy="16.5">此点，说起来容易做起来难，因为人与人的性</tspan><tspan x="1723" dy="16.5">格不同。作为一名班长，要学会沟通，有什么</tspan><tspan x="1723" dy="16.5">问题，什么矛盾，才能解决。我会再努力的。</tspan><tspan x="1723" dy="16.5">最后，我觉得为人要正直，处事公正。</tspan></text>
</g>

<g id="p3">
<rect x="1295" y="1880" width="202" height="40" rx="6" fill="#4e7494"/>
<text class="nt" x="1396" y="1905">班长工作总结标题 第三篇</text>
<rect class="bb" x="1523" y="1845" width="268" height="110" rx="5"/>
<text class="t"><tspan x="1530" y="1863.4">不知不觉，XX小语的大一生涯即将结束了。</tspan><tspan x="1530" dy="16.5">这学期或者说这将近一年的时间，本班同学和</tspan><tspan x="1530" dy="16.5">我都共同成长了不少。尽管同学们的学习与工</tspan><tspan x="1530" dy="16.5">作是那么繁忙，但有了上学期的经验，我班工</tspan><tspan x="1530" dy="16.5">作进展较顺利。总的来说，XX小语的表现是</tspan><tspan x="1530" dy="16.5">不错的。以下就是我的总结：</tspan></text>
<rect class="bb" x="1817" y="1601.5" width="178" height="27" rx="5"/>
<text class="t" x="1824" y="1619.6">一、首先是我第二学期的工作</text>
<rect class="bb" x="2020" y="1482" width="267" height="61" rx="5"/>
<text class="t"><tspan x="2027" y="1500.6">1、每周每天记录好本班的学习活动等出清情</tspan><tspan x="2027" dy="16.5">况。为不是很清楚请假的同学详细讲解，这也</tspan><tspan x="2027" dy="16.5">是我该学期有所改进的地方。</tspan></text>
<rect class="bb" x="2020" y="1573" width="211" height="27" rx="5"/>
<text class="t" x="2027" y="1591.1">2、继续致力于《班级日常手册》。</text>
<rect class="bb" x="2020" y="1630" width="267" height="44" rx="5"/>
<text class="t"><tspan x="2027" y="1648.4">3、负责"优秀舍长评选"活动工作，并协作各</tspan><tspan x="2027" dy="16.5">班委工作。</tspan></text>
<rect class="bb" x="2020" y="1703" width="250" height="28" rx="5"/>
<text class="t" x="2027" y="1721.6">4、走访宿舍，收集意见及时向班委反映。</text>
<rect class="bb" x="1817" y="2171" width="126" height="27" rx="5"/>
<text class="t" x="1824" y="2189.1">二、接着是工作总结</text>
<rect class="bb" x="1969" y="1926" width="215" height="27" rx="5"/>
<text class="t" x="1976" y="1944.1">一）本班在该学期做的较好的地方：</text>
<rect class="bb" x="2211" y="1760" width="268" height="44" rx="5"/>
<text class="t"><tspan x="2218" y="1778.4">1、大部分同学能做到按时上下课，班级的出</tspan><tspan x="2218" dy="16.5">勤率较高。</tspan></text>
<rect class="bb" x="2211" y="1833" width="268" height="43" rx="5"/>
<text class="t"><tspan x="2218" y="1850.9">2、有事情请假能及时向辅导员或班长联系说</tspan><tspan x="2218" dy="16.5">明。</tspan></text>
<rect class="bb" x="2211" y="1907" width="268" height="59" rx="5"/>
<text class="t"><tspan x="2218" y="1924.6">3、尽管大家学习工作都十分忙，但每一次的</tspan><tspan x="2218" dy="16.5">班级活动出勤人数较多，集合速度也明显有所</tspan><tspan x="2218" dy="16.5">提高。</tspan></text>
<rect class="bb" x="2211" y="1997" width="268" height="44" rx="5"/>
<text class="t"><tspan x="2218" y="2015.4">4、班委与舍长合作较好，相关通知一般能够</tspan><tspan x="2218" dy="16.5">及时下达。这是教上学期做得较好的一方面。</tspan></text>
<rect class="bb" x="2211" y="2070" width="268" height="43" rx="5"/>
<text class="t"><tspan x="2218" y="2087.9">5、学习与活动中，同学们的积极性与热情度</tspan><tspan x="2218" dy="16.5">比较高涨。</tspan></text>
<rect class="bb" x="1969" y="2217.5" width="203" height="27" rx="5"/>
<text class="t" x="1976" y="2235.6">二）工作过程中存在的不足之处：</text>
<rect class="bb" x="2198" y="2143" width="268" height="77" rx="5"/>
<text class="t"><tspan x="2205" y="2161.4">1、可能由于学习忙的关系、加之夏天炎热的</tspan><tspan x="2205" dy="16.5">天气，许多同学没有做到班规"课前提前五分</tspan><tspan x="2205" dy="16.5">钟"的要求。还有少数同学出现迟到的现象，</tspan><tspan x="2205" dy="16.5">特别是早读与晚修。</tspan></text>
<rect class="bb" x="2198" y="2249" width="268" height="60" rx="5"/>
<text class="t"><tspan x="2205" y="2267.1">2、出现少数同学未经副班或辅导员的请示说</tspan><tspan x="2205" dy="16.5">明的不符请假程序的请假，有时加大了班干工</tspan><tspan x="2205" dy="16.5">作地进行。</tspan></text>
<rect class="bb" x="1969" y="2418" width="242" height="27" rx="5"/>
<text class="t" x="1976" y="2436.1">三）针对以上的问题，采取的措施如下：</text>
<rect class="bb" x="2236" y="2340" width="268" height="59" rx="5"/>
<text class="t"><tspan x="2243" y="2357.6">1、多次提醒同学们注意时间。发动由宿舍带</tspan><tspan x="2243" dy="16.5">动班级，让每个宿舍时间观念好的同学帮助同</tspan><tspan x="2243" dy="16.5">学们，互相督促。</tspan></text>
<rect class="bb" x="2236" y="2431" width="268" height="126" rx="5"/>
<text class="t"><tspan x="2243" y="2449.1">2、分发、传阅请假程序等有关文件。多次强</tspan><tspan x="2243" dy="16.5">调说明，更加细心、耐心为同学们讲解。大体</tspan><tspan x="2243" dy="16.5">上来讲，在学习、工作如此繁忙的学期里，</tspan><tspan x="2243" dy="16.5">XX小语做的是相对较好的。尽管其中也出现</tspan><tspan x="2243" dy="16.5">不少问题，我班同心合力，努力解决不断出现</tspan><tspan x="2243" dy="16.5">的新问题。所以，我班将继续发扬好的方面，</tspan><tspan x="2243" dy="16.5">改进我们的不足之处，力求下次做得更好！</tspan></text>
</g>

<g id="p5">
<rect x="1295" y="2926" width="202" height="40" rx="6" fill="#1f3552"/>
<text class="nt" x="1396" y="2951">班长工作总结标题 第五篇</text>
<rect class="bb" x="1523" y="2586" width="268" height="107" rx="5"/>
<text class="t"><tspan x="1530" y="2602.9">大一上学期即将结束，我担任副班长一职也将</tspan><tspan x="1530" dy="16.5">近一学期。为此，我进行了总结：首先，我认</tspan><tspan x="1530" dy="16.5">为作为副班长就要以身作责，带头按时出勤，</tspan><tspan x="1530" dy="16.5">不迟到，不早退；其次，要尽职尽则地做好自</tspan><tspan x="1530" dy="16.5">己工作，热心投入到班集体工作中；最后还要</tspan><tspan x="1530" dy="16.5">配合班长和其他班干部做好班集体工作。</tspan></text>
<rect class="bb" x="1523" y="2757.5" width="204" height="27" rx="5"/>
<text class="t" x="1530" y="2775.6">首先，朝着明确的班级目标前进：</text>
<rect class="bb" x="1752" y="2725" width="268" height="92" rx="5"/>
<text class="t"><tspan x="1759" y="2742.6">学习并总结工作经验，防微杜渐，并发扬优</tspan><tspan x="1759" dy="16.5">。搞好班级建设，在新学期展现新面貌：全</tspan><tspan x="1759" dy="16.5">同学都能树立明确目标，形成良好风气；培</tspan><tspan x="1759" dy="16.5">学生良好行为规范，弘扬正气，逐步形成守</tspan><tspan x="1759" dy="16.5">、进取、勤奋的班风。</tspan></text>
<rect class="bb" x="1523" y="3240" width="152" height="27" rx="5"/>
<text class="t" x="1530" y="3258.1">其次，在具体的工作中：</text>
<rect class="bb" x="1701" y="2847" width="268" height="60" rx="5"/>
<text class="t"><tspan x="1708" y="2865.1">1、抓好班级一日常规，杜绝迟到旷课现象，</tspan><tspan x="1708" dy="16.5">抓好早晚自习纪律，提高学习效率，积极配合</tspan><tspan x="1708" dy="16.5">学生会干事清查到位、旷课现象。</tspan></text>
<rect class="bb" x="1701" y="2936" width="268" height="45" rx="5"/>
<text class="t"><tspan x="1708" y="2954.9">2、每周做好周评表，认真记录本周内的出勤</tspan><tspan x="1708" dy="16.5">情况和同学们参加的活动情况。</tspan></text>
<rect class="bb" x="1701" y="3010" width="268" height="61" rx="5"/>
<text class="t"><tspan x="1708" y="3028.6">3、积极配合组织委员和体育委员开展文体和</tspan><tspan x="1708" dy="16.5">体育活动，丰富同学们的课余时间，培养同学</tspan><tspan x="1708" dy="16.5">们的集体观念，增强班级的凝集力。</tspan></text>
<rect class="bb" x="1701" y="3100" width="268" height="44" rx="5"/>
<text class="t"><tspan x="1708" y="3118.4">4、协助学习委员提高班级的学习氛围；对于</tspan><tspan x="1708" dy="16.5">班级班务活动应实行公开</tspan></text>
<rect class="bb" x="1701" y="3172" width="268" height="77" rx="5"/>
<text class="t"><tspan x="1708" y="3190.4">5、宿舍方面，协同生活委员对同学们宿舍卫</tspan><tspan x="1708" dy="16.5">生进行评比制度，营造卫生、文明、礼貌、团</tspan><tspan x="1708" dy="16.5">结、学习的氛围。对于各种集体的会议，由寝</tspan><tspan x="1708" dy="16.5">室长负责准时提醒各位舍友准时出席；</tspan></text>
<rect class="bb" x="1701" y="3279" width="268" height="78" rx="5"/>
<text class="t"><tspan x="1708" y="3297.9">6、定期配合班长组织并开展班干部会议，以</tspan><tspan x="1708" dy="16.5">促进各班干部工作经验交流，从而提高班干部</tspan><tspan x="1708" dy="16.5">团结一心的力量，以保证班级工作良好顺利进</tspan><tspan x="1708" dy="16.5">行。</tspan></text>
<rect class="bb" x="1701" y="3385" width="268" height="45" rx="5"/>
<text class="t"><tspan x="1708" y="3403.9">7、定期开展学习经验交流活动，帮助大家养</tspan><tspan x="1708" dy="16.5">成良好的学习态度和方法。</tspan></text>
<rect class="bb" x="1701" y="3607" width="268" height="44" rx="5"/>
<text class="t"><tspan x="1708" y="3625.4">8、积极参加班级各种活动，如英语知识竞赛</tspan><tspan x="1708" dy="16.5">，书法比赛等</tspan></text>
<rect class="bb" x="1994" y="3462" width="268" height="189" rx="5"/>
<rect class="bb" x="1994" y="3682" width="268" height="42" rx="5"/>
<text class="t"><tspan x="2001" y="3715.9">将会总结经验，继续努力做好工作。</tspan></text>
</g>

<g id="p7">
<rect x="1295" y="4077" width="202" height="40" rx="6" fill="#d63d45"/>
<text class="nt" x="1396" y="4102">班长工作总结标题 第七篇</text>
<rect class="pb" x="1524" y="4010" width="267" height="174" rx="5"/>
<text class="t tp"><tspan x="1531" y="4027.4">本年度，保安服务有限公司在主管业务部门的</tspan><tspan x="1531" dy="16.5">正确领导下，全体员工团结一致，务实苦干，</tspan><tspan x="1531" dy="16.5">开拓进取，外树形象，内强素质，以"服务服</tspan><tspan x="1531" dy="16.5">从公安工作，服务经济建设和社会安全"为宗</tspan><tspan x="1531" dy="16.5">旨，紧紧围绕年初公司制定的发展规划和任务</tspan><tspan x="1531" dy="16.5">目标开展工作，不断巩固推进人防建设，进一</tspan><tspan x="1531" dy="16.5">步发展壮大安防中心，稳步拓展印章承制业务</tspan><tspan x="1531" dy="16.5">，充分履行了企业的社会责任，实现了公司业</tspan><tspan x="1531" dy="16.5">务的良性健康发展，取得了明显的社会效益和</tspan><tspan x="1531" dy="16.5">经济效益。现将全年主要工作总结如下：</tspan></text>
<rect class="pb" x="1816" y="3845" width="268" height="44" rx="5"/>
<text class="t tp"><tspan x="1823" y="3863.4">一、继续完善各项规章制度，推行规范化建设</tspan><tspan x="1823" dy="16.5">模式</tspan></text>
<rect class="pb" x="2110" y="3755" width="268" height="224" rx="5"/>
<text class="t tp"><tspan x="2117" y="3772.6">企业要发展，管理是关键，企业管</tspan><tspan x="2117" dy="16.5">天都要直面的问题，如何建立适应</tspan><tspan x="2117" dy="16.5">场经济体制的现代企业制度，大有</tspan><tspan x="2117" dy="16.5">公司在实施企业管理过程中，严格</tspan><tspan x="2117" dy="16.5">，依制度办事。在制定各项规章制</tspan><tspan x="2117" dy="16.5">穿以人为本的思想理念，发现问题</tspan><tspan x="2117" dy="16.5">完善，初步形成了适用于本公司的</tspan><tspan x="2117" dy="16.5">经营管理，后勤管理，财务管理，</tspan><tspan x="2117" dy="16.5">管理制度。克服了管理中的随意性</tspan><tspan x="2117" dy="16.5">。大到经营决策、人事、财务管理</tspan><tspan x="2117" dy="16.5">员的招收条件、培训时间、执勤要</tspan><tspan x="2117" dy="16.5">有程序，有规定，有标准，有要求</tspan><tspan x="2117" dy="16.5">一、规范、科学、有效的标准化管</tspan></text>
<rect class="pb" x="1816" y="4312.5" width="140" height="27" rx="5"/>
<text class="t tp" x="1823" y="4330.6">二、强化保安服务管理</text>
<rect class="pb" x="1981" y="4012" width="267" height="189" rx="5"/>
<text class="t tp"><tspan x="1988" y="4028.6">社会需要保安，保安需要规范，公司将规范化</tspan><tspan x="1988" dy="16.5">纳入到保安员的日常管理中；全面实行招聘制</tspan><tspan x="1988" dy="16.5">、培训制、考核制、持证上岗制、岗位责任制</tspan><tspan x="1988" dy="16.5">，奖惩制和淘汰制。对于新招聘的保安员，按</tspan><tspan x="1988" dy="16.5">照规章制度，严把形象关、政审关、素质关和</tspan><tspan x="1988" dy="16.5">岗前培训关。新保安上岗后，必须由驻勤点的</tspan><tspan x="1988" dy="16.5">班长或保安骨干带领实习三天，熟习驻勤点的</tspan><tspan x="1988" dy="16.5">情况和自己的职责后才能正式上班。对于在岗</tspan><tspan x="1988" dy="16.5">保安员，严格按照仪容仪表、服务态度、处理</tspan><tspan x="1988" dy="16.5">问题的应变能力等制定的达标标准，做到奖惩</tspan><tspan x="1988" dy="16.5">分明。</tspan></text>
<rect class="pb" x="1981" y="4233" width="267" height="188" rx="5"/>
<text class="t tp"><tspan x="1988" y="4249.1">在部队，班长被誉为"军中之母"。在保安队伍</tspan><tspan x="1988" dy="16.5">中，班长同样是兵头将尾，发挥着不可替代的</tspan><tspan x="1988" dy="16.5">作用。公司要求人防部平时从细微之处入手，</tspan><tspan x="1988" dy="16.5">从貌似平常的事物中找出下属不凡的特质，细</tspan><tspan x="1988" dy="16.5">心识别真假人才，对于好夸耀的人不予重用，</tspan><tspan x="1988" dy="16.5">华而不实，言而无物的人不予使用，采取由人</tspan><tspan x="1988" dy="16.5">防部推荐，驻勤点保安员选举，公司考察相结</tspan><tspan x="1988" dy="16.5">合，从保安队伍中培养和选拔优秀人才来担任</tspan><tspan x="1988" dy="16.5">各驻勤点的班长；并针对班长及骨干人员文化</tspan><tspan x="1988" dy="16.5">修养，专业知识和管理能力等综合素质高低不</tspan><tspan x="1988" dy="16.5">一，参差不齐的现状。</tspan></text>
<rect class="pb" x="1981" y="4454" width="267" height="189" rx="5"/>
<text class="t tp"><tspan x="1988" y="4470.6">在今年的x月份，专门对现任保安员班长及骨</tspan><tspan x="1988" dy="16.5">干分子xx人进行天的基础队列动作训练和业</tspan><tspan x="1988" dy="16.5">务管理能力的培训，着力提高保安班长及骨干</tspan><tspan x="1988" dy="16.5">的执行力、控制力、纠错力和凝聚力。保安督</tspan><tspan x="1988" dy="16.5">察是保安队伍日常管理重要一部分，从内务卫</tspan><tspan x="1988" dy="16.5">生、执勤情况、仪容仪表等开始督察，以不定</tspan><tspan x="1988" dy="16.5">期、不定时的方式，检查保安员的着装形象、</tspan><tspan x="1988" dy="16.5">台帐记录、环境卫生、礼节礼貌，并经过夜间</tspan><tspan x="1988" dy="16.5">查哨、查铺，了解保安员的到位、巡逻等落实</tspan><tspan x="1988" dy="16.5">情况。通过客户单位监督反馈、公司抽查、人</tspan><tspan x="1988" dy="16.5">防部自纠自查和保安督察。</tspan></text>
</g>

<g id="watermark" class="wm">
<text transform="translate(300,740) rotate(-35)">树图 <tspan class="wl">shutu.cn</tspan></text>
<text transform="translate(300,1740) rotate(-35)">树图 <tspan class="wl">shutu.cn</tspan></text>
<text transform="translate(300,2740) rotate(-35)">树图 <tspan class="wl">shutu.cn</tspan></text>
<text transform="translate(300,3740) rotate(-35)">树图 <tspan class="wl">shutu.cn</tspan></text>
<text transform="translate(300,4740) rotate(-35)">树图 <tspan class="wl">shutu.cn</tspan></text>
<text transform="translate(1627,700) rotate(-35)">树图 <tspan class="wl">shutu.cn</tspan></text>
<text transform="translate(1627,1700) rotate(-35)">树图 <tspan class="wl">shutu.cn</tspan></text>
<text transform="translate(1627,2700) rotate(-35)">树图 <tspan class="wl">shutu.cn</tspan></text>
<text transform="translate(1627,3700) rotate(-35)">树图 <tspan class="wl">shutu.cn</tspan></text>
<text transform="translate(1627,4710) rotate(-35)">树图 <tspan class="wl">shutu.cn</tspan></text>
</g>
</g>
</svg>
